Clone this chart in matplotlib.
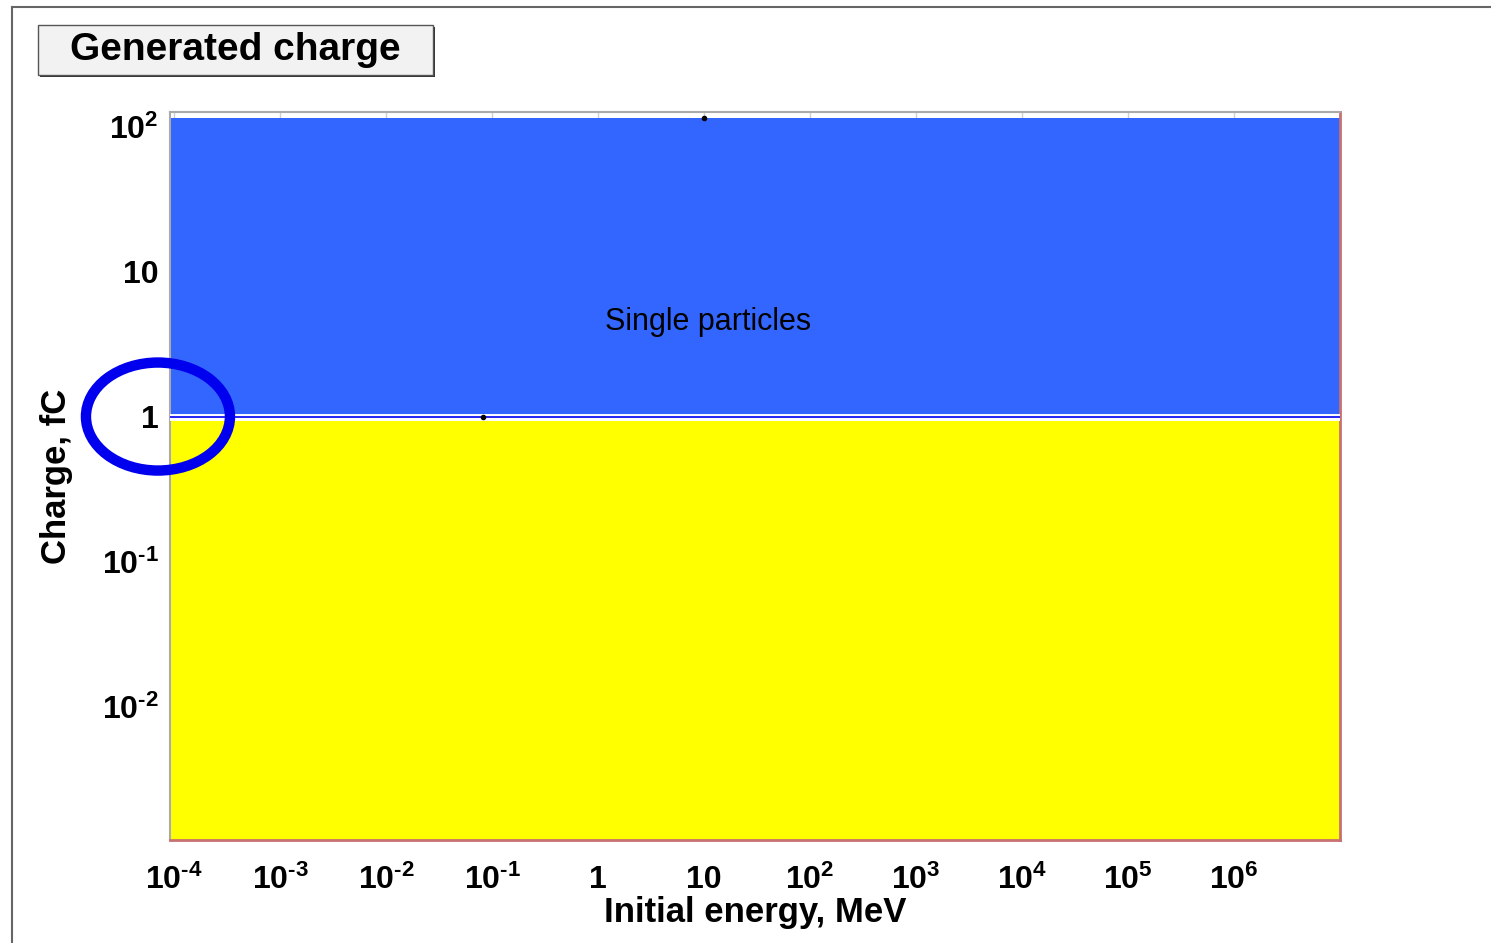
import numpy as np
import matplotlib
matplotlib.use('Agg')
import matplotlib.pyplot as plt
from matplotlib.patches import Ellipse, Rectangle
from matplotlib.lines import Line2D
from matplotlib import transforms

plt.rcParams['font.family'] = ['Liberation Sans', 'DejaVu Sans']
plt.rcParams['mathtext.fontset'] = 'custom'
plt.rcParams['mathtext.rm'] = 'Liberation Sans:bold'
plt.rcParams['mathtext.bf'] = 'Liberation Sans:bold'
plt.rcParams['mathtext.it'] = 'Liberation Sans:bold'

# axis ranges (log10 decades)
energyRange = [-4.04, 7.0]
chargeRange = [-2.92, 2.10]

# tick positions and labels
energyTicks = [1e-4, 1e-3, 1e-2, 1e-1, 1, 10, 1e2, 1e3, 1e4, 1e5, 1e6]
energyLabels = [r'$10^{\text{-}4}$', r'$10^{\text{-}3}$', r'$10^{\text{-}2}$', r'$10^{\text{-}1}$',
                '1', '10', r'$10^{2}$', r'$10^{3}$', r'$10^{4}$', r'$10^{5}$', r'$10^{6}$']
chargeTicks = [1e-2, 1e-1, 1, 10, 1e2]
chargeLabels = [r'$10^{\text{-}2}$', r'$10^{\text{-}1}$', '1', '10', r'$10^{2}$']

# charge regions, fC
threshold = 1.0
singleTop = 115.0
regionLabel = 'Single particles'
regionLabelPos = (11.0, 4.5)

# stray points on the boundaries
pointEnergy = [0.082, 10.0]
pointCharge = [1.0, 115.0]

blue = '#3366ff'
yellow = '#ffff00'

fig = plt.figure(figsize=(14.91, 9.43), dpi=100)
W, H = 1491, 943

ax = fig.add_axes([170 / W, 1 - 840 / H, 1170 / W, 728 / H])
ax.set_xscale('log')
ax.set_yscale('log')
xmin, xmax = 10 ** energyRange[0], 10 ** energyRange[1]
ymin, ymax = 10 ** chargeRange[0], 10 ** chargeRange[1]
ax.set_xlim(xmin, xmax)
ax.set_ylim(ymin, ymax)

ax.set_axisbelow(True)
ax.grid(True, axis='x', which='major', color='#d0d0d0', linewidth=1)

ax.fill_between([xmin, xmax], threshold, singleTop, color=blue, linewidth=0, zorder=2)
ax.fill_between([xmin, xmax], ymin, threshold, color=yellow, linewidth=0, zorder=2)
ax.axhline(threshold, color='white', linewidth=5, zorder=3)
ax.axhline(threshold, color='#0000ee', linewidth=1.2, zorder=4)
ax.plot(pointEnergy, pointCharge, 'o', color='black', markersize=3, zorder=5, clip_on=False)

ax.text(regionLabelPos[0], regionLabelPos[1], regionLabel, fontsize=22,
        ha='center', va='center', zorder=6)

ax.set_xticks(energyTicks)
ax.set_xticklabels(energyLabels)
ax.set_yticks(chargeTicks)
ax.set_yticklabels(chargeLabels)
ax.tick_params(axis='both', which='major', direction='in', length=4, color='#999999',
               labelsize=23, width=1)
ax.tick_params(axis='x', which='major', pad=18)
ax.tick_params(axis='y', which='major', pad=8)
ax.tick_params(axis='both', which='minor', direction='in', length=3, color='#888888', width=0.8)
ax.yaxis.set_minor_locator(matplotlib.ticker.NullLocator())
for lab in ax.get_xticklabels() + ax.get_yticklabels():
    lab.set_fontweight('bold')

for side in ['top', 'left']:
    ax.spines[side].set_color('#aaaaaa')
    ax.spines[side].set_linewidth(1.5)
for side in ['bottom', 'right']:
    ax.spines[side].set_color('#c87070')
    ax.spines[side].set_linewidth(2)

ax.set_xlabel('Initial energy, MeV', fontsize=25, fontweight='bold', labelpad=0)
ax.set_ylabel('Charge, fC', fontsize=25, fontweight='bold', labelpad=21)

# circle round the 1 fC tick
place = transforms.blended_transform_factory(ax.transAxes, ax.transData)
ring = Ellipse((0, 0), 1.44, 1.08, fill=False, edgecolor='#0000ee', linewidth=7.5,
               transform=fig.dpi_scale_trans + transforms.ScaledTranslation(-0.0103, threshold, place),
               clip_on=False, zorder=10)
fig.add_artist(ring)

# title box with shadow
fig.add_artist(Rectangle((40 / W, 1 - 77 / H), 395 / W, 50 / H, transform=fig.transFigure,
                         facecolor='#333333', edgecolor='none'))
fig.add_artist(Rectangle((38 / W, 1 - 75 / H), 395 / W, 50 / H, transform=fig.transFigure,
                         facecolor='#f2f2f2', edgecolor='#555555', linewidth=1))
fig.text(235 / W, 1 - 50 / H, 'Generated charge', fontsize=28, fontweight='bold',
         ha='center', va='center')

# page frame
fig.add_artist(Line2D([12 / W, 1], [1 - 7 / H, 1 - 7 / H], transform=fig.transFigure,
                      color='#666666', linewidth=1.5))
fig.add_artist(Line2D([12 / W, 12 / W], [0, 1 - 7 / H], transform=fig.transFigure,
                      color='#666666', linewidth=1.5))

fig.savefig('out.png', dpi=100)
